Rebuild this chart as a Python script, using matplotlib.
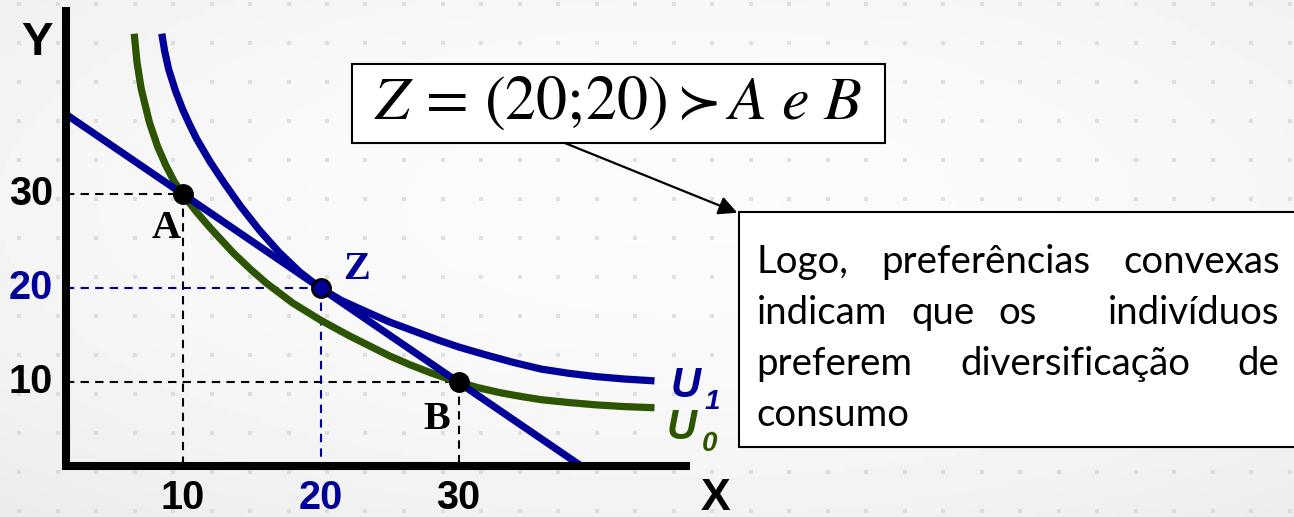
import numpy as np
import matplotlib
matplotlib.use("Agg")
import matplotlib.pyplot as plt
from matplotlib.patches import Rectangle

# budget line x + y = 40, end points
budget_x = [1.56, 38.8]
budget_y = [38.44, 1.2]

# indifference curve U0 (passes A and B)
u0_x = [6.5, 6.7, 7.0, 7.6, 8.2, 8.8, 9.4, 10, 11, 12, 13.7, 15, 16.1, 18, 20, 22, 25, 26.5,
        28, 30, 31.5, 33, 34.5, 36, 38, 40, 42, 44.2]
u0_y = [47.0, 44.0, 41.2, 37.6, 35.0, 33.0, 31.3, 30, 28.1, 26.4, 23.7, 21.9, 20.5, 18.4, 16.6, 15.0, 12.8, 11.85,
        11.0, 10, 9.4, 8.9, 8.5, 8.15, 7.85, 7.6, 7.42, 7.3]

# indifference curve U1 (touches the budget line at Z)
u1_x = [8.5, 8.7, 9.0, 9.5, 10.0, 10.5, 11.0, 12.0, 13.0, 14.2, 15.6, 17.0, 18.5, 20.0,
        21.5, 23.0, 25.0, 28.5, 30.0, 32.0, 34.0, 36.0, 38.0, 40.0, 42.0, 44.2]
u1_y = [47.0, 45.2, 43.2, 40.9, 39.0, 37.4, 35.9, 33.4, 31.2, 28.7, 26.1, 23.8, 21.7, 20.0,
        18.7, 17.7, 16.4, 14.5, 13.75, 12.9, 12.1, 11.4, 10.95, 10.6, 10.35, 10.15]

# baskets
pt_names = ["A", "Z", "B"]
pt_x = [10, 20, 30]
pt_y = [30, 20, 10]

ticks = [10, 20, 30]
tick_cols = ["black", "#000099", "black"]

note_lines = ["Logo, preferências convexas",
              "indicam que os   indivíduos",
              "preferem diversificação de",
              "consumo"]

NAVY = "#000099"
GREEN = "#2d5400"

x0, y0 = 1.56, 1.1  # where the drawn axes cross

fig = plt.figure(figsize=(12.94, 5.17), dpi=100)

# background with faint dots
bg = fig.add_axes([0, 0, 1, 1], zorder=-5)
gx, gy = np.meshgrid(np.linspace(-1, 1, 260), np.linspace(-1, 1, 104))
shade = 0.985 - 0.05 * ((gx - 0.05) ** 2 + (gy + 0.2) ** 2) / 2
bg.imshow(shade, cmap="gray", vmin=0, vmax=1, extent=[0, 1, 0, 1], aspect="auto")
dx, dy = np.meshgrid(np.arange(19, 1294, 38.5) / 1294, 1 - np.arange(4, 517, 39) / 517)
bg.scatter(dx.ravel(), dy.ravel(), marker="s", s=10, color="#d4d4d4", lw=0, alpha=0.7)
bg.set_xlim(0, 1)
bg.set_ylim(0, 1)
bg.axis("off")

ax = fig.add_axes([0, 0, 1, 1])
ax.patch.set_alpha(0)
ax.set_xlim(-3.225, 90.54)
ax.set_ylim(-4.30, 50.58)
ax.axis("off")

# guide lines
for (px, py), c in zip(zip(pt_x, pt_y), ["black", NAVY, "black"]):
    ax.plot([x0, px], [py, py], color=c, lw=1.5, dashes=(4, 3), zorder=1)
    ax.plot([px, px], [py, y0], color=c, lw=1.5, dashes=(4, 3), zorder=1)

# axes
ax.plot([x0, x0, 46.8], [49.8, y0, y0], color="black", lw=5.8,
        solid_joinstyle="miter", solid_capstyle="butt", zorder=5)

ax.plot(u0_x, u0_y, color=GREEN, lw=5.2, solid_capstyle="butt", solid_joinstyle="round", zorder=2)
ax.plot(budget_x, budget_y, color=NAVY, lw=5.2, solid_capstyle="butt", zorder=3)
ax.plot(u1_x, u1_y, color=NAVY, lw=5.2, solid_capstyle="butt", solid_joinstyle="round", zorder=3)

ax.plot([pt_x[0], pt_x[2]], [pt_y[0], pt_y[2]], "o", color="black", ms=14, zorder=6)
ax.plot(pt_x[1], pt_y[1], "o", mfc=NAVY, mec="black", mew=2, ms=13, zorder=6)

bold = dict(family="Liberation Sans", weight="bold")
serif = dict(family="Liberation Serif", weight="bold")
for t, c in zip(ticks, tick_cols):
    ax.text(0.6, t, str(t), ha="right", va="center", fontsize=28.5, color=c, **bold)
    ax.text(t, -2.25, str(t), ha="center", va="center", fontsize=28.5, color=c, **bold)
ax.text(-0.55, 46.0, "Y", ha="center", va="center", fontsize=34, **bold)
ax.text(48.6, -2.35, "X", ha="center", va="center", fontsize=32, **bold)

ax.text(8.8, 26.3, pt_names[0], ha="center", va="center", fontsize=29, **serif)
ax.text(22.6, 22.0, pt_names[1], ha="center", va="center", fontsize=29, color=NAVY, **serif)
ax.text(28.4, 6.1, pt_names[2], ha="center", va="center", fontsize=29, **serif)

ubi = dict(family="Liberation Sans", weight="bold", style="italic")
ax.text(45.4, 9.6, "U", ha="left", va="center", fontsize=30, color=NAVY, **ubi)
ax.text(48.4, 7.9, "1", ha="center", va="center", fontsize=20, color=NAVY, **ubi)
ax.text(45.1, 5.2, "U", ha="left", va="center", fontsize=30, color=GREEN, **ubi)
ax.text(48.2, 3.5, "0", ha="center", va="center", fontsize=20, color=GREEN, **ubi)

# top box with the statement
ax.add_patch(Rectangle((22.3, 35.4), 38.6, 8.4, fc="white", ec="black", lw=1.5, zorder=4))
plt.rcParams["mathtext.fontset"] = "stix"
renderer = fig.canvas.get_renderer()
stmt = r"$Z\,=\,(20;\!20)\succ A\ e\ B$"
t = ax.text(0, 0, stmt, fontsize=20)
w20 = t.get_window_extent(renderer).width
t.remove()
ax.text(41.6, 39.8, stmt, ha="center", va="center", fontsize=20 * 490 / w20, zorder=5)

ax.annotate("", xy=(50.2, 28.0), xytext=(37.7, 35.4),
            arrowprops=dict(arrowstyle="-|>", color="black", lw=1.6,
                            mutation_scale=28, shrinkA=0, shrinkB=0), zorder=5)

# right box with the note, justified text
ax.add_patch(Rectangle((50.3, 3.15), 45, 24.9, fc="white", ec="black", lw=1.5, zorder=4))
body = dict(family="Lato")
t = ax.text(0, 0, "consumo", fontsize=20, **body)
wc = t.get_window_extent(renderer).width
t.remove()
fs = 20 * 153 / wc
px_per_x = ax.transData.transform((1, 0))[0] - ax.transData.transform((0, 0))[0]
left, right = 51.6, 89.5
base_y = [21.6, 16.2, 10.8, 5.4]
for i, line in enumerate(note_lines):
    words = line.split(" ")
    if i == len(note_lines) - 1:
        ax.text(left, base_y[i], line, fontsize=fs, va="baseline", zorder=5, **body)
        continue
    widths = []
    for wd in words:
        if wd:
            t = ax.text(0, 0, wd, fontsize=fs, **body)
            widths.append(t.get_window_extent(renderer).width / px_per_x)
            t.remove()
        else:
            widths.append(0)
    gap = (right - left - sum(widths)) / (len(words) - 1)
    x = left
    for wd, w in zip(words, widths):
        if wd:
            ax.text(x, base_y[i], wd, fontsize=fs, va="baseline", zorder=5, **body)
        x += w + gap

fig.savefig("out.png", dpi=100)
